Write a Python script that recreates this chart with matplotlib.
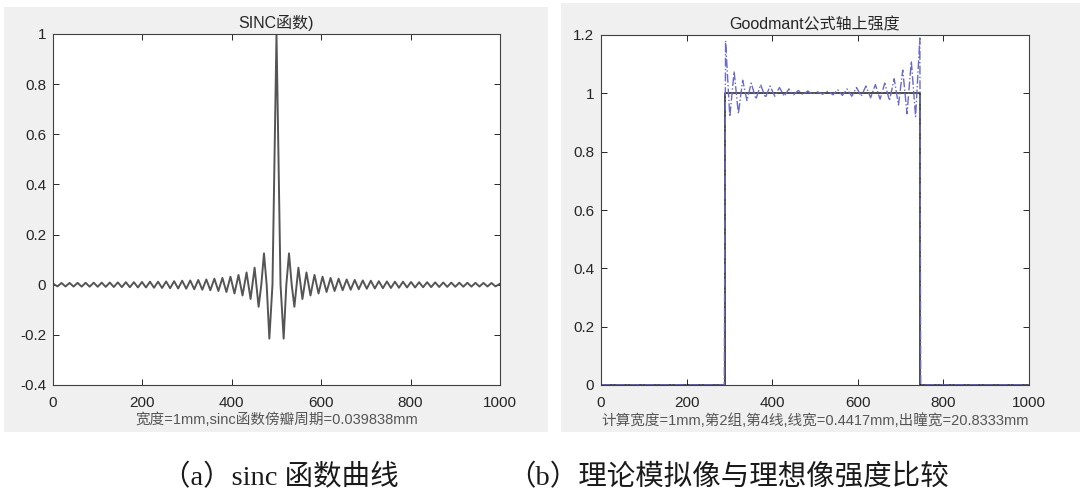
import matplotlib
matplotlib.use("Agg")
import matplotlib.pyplot as plt
from matplotlib.patches import Rectangle

plt.rcParams['font.family'] = ['Liberation Sans', 'Noto Sans CJK SC', 'DejaVu Sans']

# ***** DATA *****
# (a) sinc curve: offsets of peaks / zero crossings from the centre (x=500) and their values,
# read off the picture; the curve is symmetric about x=500
sinc_offset = [0, 9, 16, 22, 28, 34, 40, 49, 58, 67, 76, 85, 94, 103, 112, 121, 130, 139,
               148, 157, 166, 175, 184, 193, 202, 211, 220, 229, 238, 247, 256, 265, 274,
               283, 292, 301, 310, 319, 328, 337, 346, 355, 364, 373, 382, 391, 400, 409,
               418, 427, 436, 445, 454, 463, 472, 481, 490, 500]
sinc_value = [1.0, 0.0, -0.215, 0.0, 0.125, 0.0, -0.088, 0.068, -0.057, 0.049, -0.043,
              0.039, -0.035, 0.032, -0.029, 0.027, -0.025, 0.024, -0.022, 0.021, -0.020,
              0.019, -0.018, 0.017, -0.016, 0.016, -0.015, 0.014, -0.014, 0.013, -0.013,
              0.012, -0.012, 0.012, -0.011, 0.011, -0.011, 0.010, -0.010, 0.010, -0.0095,
              0.0093, -0.009, 0.0088, -0.0086, 0.0084, -0.0082, 0.008, -0.0079, 0.0077,
              -0.0076, 0.0074, -0.0073, 0.0071, -0.007, 0.0069, -0.0067, 0.004]

# (b) ideal image (black) and Goodman simulated intensity (blue)
ideal_x = [0, 290, 290, 746, 746, 1000]
ideal_y = [0, 0, 1, 1, 0, 0]
sim_x = [0, 288, 291, 301, 311, 321, 331, 341, 351, 362, 373, 384, 395, 406, 417, 428,
         439, 450, 461, 472, 483, 494, 506, 518, 530, 542, 553, 564, 575, 586, 597, 608,
         619, 630, 641, 652, 663, 674, 685, 695, 705, 715, 725, 735, 745, 747, 1000]
sim_y = [0, 0, 1.18, 0.92, 1.075, 0.93, 1.045, 0.975, 1.035, 0.98, 1.03, 0.985, 1.025,
         0.99, 1.02, 0.99, 1.015, 0.995, 1.01, 0.995, 1.008, 0.997, 1.005, 0.997, 1.008,
         0.995, 1.012, 0.993, 1.015, 0.99, 1.02, 0.99, 1.025, 0.985, 1.03, 0.98, 1.035,
         0.975, 1.05, 0.96, 1.08, 0.93, 1.11, 0.92, 1.19, 0, 0]

xticks = [0, 200, 400, 600, 800, 1000]
yticks_a = [-0.4, -0.2, 0, 0.2, 0.4, 0.6, 0.8, 1]
ylabels_a = ['-0.4', '-0.2', '0', '0.2', '0.4', '0.6', '0.8', '1']
yticks_b = [0, 0.2, 0.4, 0.6, 0.8, 1, 1.2]
ylabels_b = ['0', '0.2', '0.4', '0.6', '0.8', '1', '1.2']

title_a = 'SINC函数)'
xlabel_a = '宽度=1mm,sinc函数傍瓣周期=0.039838mm'
title_b = 'Goodmant公式轴上强度'
xlabel_b = '计算宽度=1mm,第2组,第4线,线宽=0.4417mm,出瞳宽=20.8333mm'
caption_a = '（a）sinc 函数曲线'
caption_b = '（b）理论模拟像与理想像强度比较'

# mirror the symmetric sinc half
sinc_x = [500 - d for d in sinc_offset[::-1]] + [500 + d for d in sinc_offset[1:]]
sinc_y = sinc_value[::-1] + sinc_value[1:]

# ***** FIGURE *****
W, H = 1080, 497
fig = plt.figure(figsize=(W / 100, H / 100), dpi=100)
fig.patch.set_facecolor('white')

def px_rect(x0, y0, x1, y1):
    # pixel box (top-left origin) -> figure fraction [left, bottom, width, height]
    return [x0 / W, 1 - y1 / H, (x1 - x0) / W, (y1 - y0) / H]

# grey MATLAB figure backgrounds
for box in [(4, 7, 548, 432), (561, 3, 1080, 432)]:
    l, b, w, h = px_rect(*box)
    fig.patches.append(Rectangle((l, b), w, h, transform=fig.transFigure,
                                 facecolor='#f0f0f0', edgecolor='none', zorder=-5))

ax1 = fig.add_axes(px_rect(53, 34, 500, 385))
ax2 = fig.add_axes(px_rect(601, 35, 1029, 385))

ax1.plot(sinc_x, sinc_y, color='#555555', linewidth=1.4)
ax2.plot(ideal_x, ideal_y, color='#1a1a1a', linewidth=1.1)
ax2.plot(sim_x, sim_y, color='#6a6ac8', linewidth=1.0, linestyle='-.')

def style(ax, yt, yl, title, xlabel, ylim):
    ax.set_facecolor('white')
    ax.set_xlim(0, 1000)
    ax.set_ylim(*ylim)
    ax.set_xticks(xticks)
    ax.set_xticklabels([str(t) for t in xticks])
    ax.set_yticks(yt)
    ax.set_yticklabels(yl)
    ax.tick_params(direction='in', length=4, width=0.7, top=True, right=True,
                   labelsize=11, colors='#262626', pad=5)
    ax.tick_params(axis='x', pad=8)
    for s in ax.spines.values():
        s.set_color('#404040')
        s.set_linewidth(0.8)
    ax.set_title(title, fontsize=11.5, color='#262626', pad=4)
    ax.set_xlabel(xlabel, fontsize=10.5, color='#555555', labelpad=2)

style(ax1, yticks_a, ylabels_a, title_a, xlabel_a, (-0.4, 1))
style(ax2, yticks_b, ylabels_b, title_b, xlabel_b, (0, 1.2))

cap_font = ['Liberation Serif', 'Noto Sans CJK SC']
fig.text(280 / W, 1 - 478 / H, caption_a, family=cap_font, fontsize=20.5,
         color='#1a1a1a', ha='center', va='center')
fig.text(728 / W, 1 - 478 / H, caption_b, family=cap_font, fontsize=20.5,
         color='#1a1a1a', ha='center', va='center')

fig.savefig('out.png', dpi=100)
